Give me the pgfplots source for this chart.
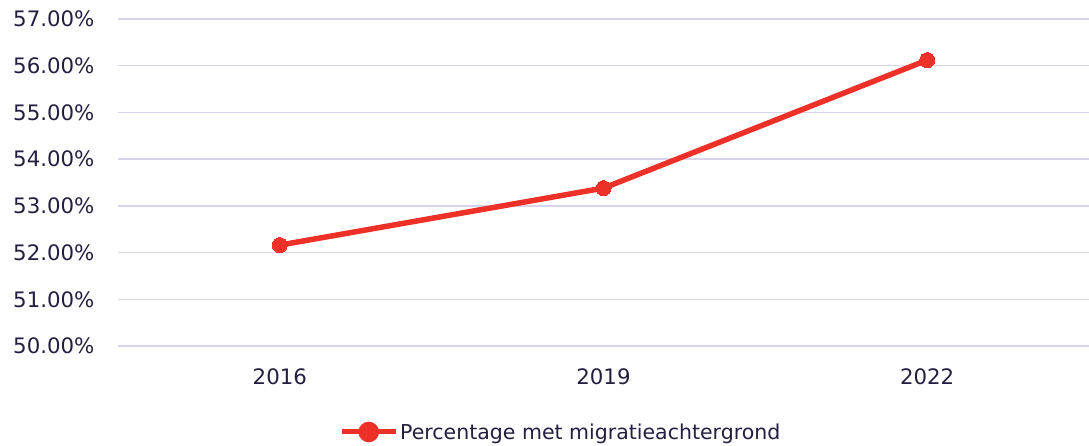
\documentclass[border=0pt]{standalone}
\usepackage{fontspec}
\setmainfont{DejaVu Sans}
\usepackage{pgfplots}
\usetikzlibrary{calc}
\pgfplotsset{compat=1.18}
\definecolor{txt}{HTML}{231F40}
\definecolor{gridc}{HTML}{D9D3EC}
\definecolor{lred}{HTML}{EE3128}
\begin{document}
\begin{tikzpicture}
\begin{axis}[
  scale only axis,
  width=971pt, height=327pt,
  xmin=-0.5, xmax=2.5,
  ymin=50, ymax=57,
  ytick={50,51,...,57},
  xtick={0,1,2},
  xticklabels={2016,2019,2022},
  axis lines*=left,
  axis line style={draw=none},
  major tick length=0pt,
  ymajorgrids,
  major grid style={draw=gridc, line width=1.5pt},
  yticklabel={\pgfmathprintnumber[fixed,fixed zerofill,precision=2]{\tick}\%},
  /pgf/number format/assume math mode=true,
  ticklabel style={font=\fontsize{21.3}{25}\selectfont, text=txt},
  yticklabel style={xshift=-20pt},
  xticklabel style={yshift=-19pt},
  legend style={draw=none, at={(0.456,-0.263)}, anchor=center, font=\fontsize{20.5}{24}\selectfont, text=txt, legend cell align=left, inner xsep=0pt},
  legend image code/.code={
    \draw[lred, line width=5pt] (0pt,0pt) -- (54pt,0pt);
    \fill[lred] (27pt,0pt) circle (7.5pt);
  },
]
\addplot[lred, line width=5.5pt, mark=*, mark size=7.5pt, mark options={fill=lred, draw=lred, line width=0pt}] coordinates {
  (0,52.16) (1,53.38) (2,56.12)
};
\addlegendentry{Percentage met migratieachtergrond}
\end{axis}
\pgfresetboundingbox
\path[use as bounding box] ($(current axis.south west)+(-118pt,-100pt)$) rectangle ($(current axis.north east)+(0pt,19pt)$);
\end{tikzpicture}
\end{document}
